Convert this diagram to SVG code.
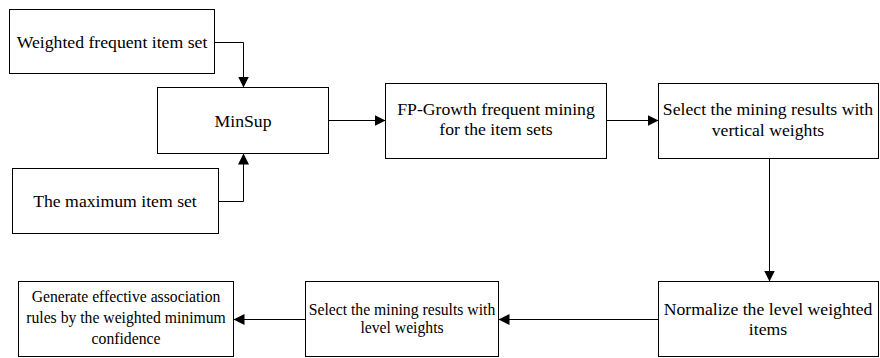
<svg xmlns="http://www.w3.org/2000/svg" width="880" height="358" viewBox="0 0 880 358">
<style>
.box{fill:#fff;stroke:#000;stroke-width:1}
text{font-family:'Liberation Serif','DejaVu Serif',serif;font-size:17.7px;fill:#000;text-anchor:middle}
text.s{font-size:15.7px}
.c{fill:none;stroke:#000;stroke-width:1}
</style>
<defs>
<marker id="ah" viewBox="0 0 10 10" refX="10" refY="5" markerWidth="11" markerHeight="11" markerUnits="userSpaceOnUse" orient="auto">
<path d="M0,0 L10,5 L0,10 Z" fill="#000"/>
</marker>
</defs>
<rect width="880" height="358" fill="#fff"/>
<g id="n1"><rect class="box" x="9.5" y="9.5" width="205" height="64"/><text x="112" y="48">Weighted frequent item set</text></g>
<g id="n2"><rect class="box" x="157.5" y="87.5" width="171" height="66"/><text x="243" y="127">MinSup</text></g>
<g id="n3"><rect class="box" x="12.5" y="168.5" width="206" height="65"/><text x="115" y="207">The maximum item set</text></g>
<g id="n4"><rect class="box" x="385.5" y="83.5" width="221" height="75"/><text x="496" y="115">FP-Growth frequent mining</text><text x="496" y="135">for the item sets</text></g>
<g id="n5"><rect class="box" x="658.5" y="83.5" width="220" height="75"/><text x="768" y="115">Select the mining results with</text><text x="768" y="136">vertical weights</text></g>
<g id="n6"><rect class="box" x="658.5" y="281.5" width="220" height="75"/><text x="768" y="315">Normalize the level weighted</text><text x="768" y="335">items</text></g>
<g id="n7"><rect class="box" x="305.5" y="281.5" width="193" height="75"/><text class="s" x="402" y="315">Select the mining results with</text><text class="s" x="402" y="333">level weights</text></g>
<g id="n8"><rect class="box" x="18.5" y="281.5" width="215" height="75"/><text class="s" x="126" y="302">Generate effective association</text><text class="s" x="126" y="323">rules by the weighted minimum</text><text class="s" x="126" y="344">confidence</text></g>
<g id="connectors">
<path class="c" d="M214.5,42.5 H243.5 V87.5" marker-end="url(#ah)"/>
<path class="c" d="M218.5,201.5 H243.5 V153.5" marker-end="url(#ah)"/>
<path class="c" d="M328.5,120.5 H385.5" marker-end="url(#ah)"/>
<path class="c" d="M606.5,120.5 H658.5" marker-end="url(#ah)"/>
<path class="c" d="M769.5,158.5 V281.5" marker-end="url(#ah)"/>
<path class="c" d="M658.5,319.5 H498.5" marker-end="url(#ah)"/>
<path class="c" d="M305.5,319.5 H233.5" marker-end="url(#ah)"/>
</g>
</svg>
